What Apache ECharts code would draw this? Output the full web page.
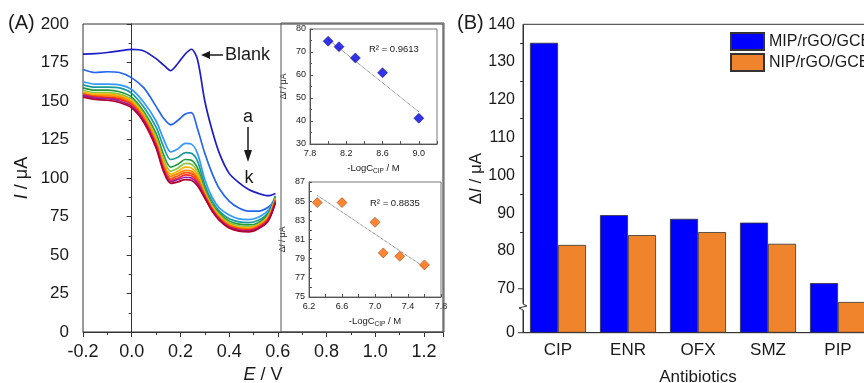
<!DOCTYPE html>
<html>
<head>
<meta charset="utf-8">
<script src="https://cdn.jsdelivr.net/npm/echarts@6.0.0/dist/echarts.min.js"></script>
<style>
  html, body { margin: 0; padding: 0; background: #fff; }
  #chart { width: 864px; height: 383px; }
</style>
</head>
<body>
<div id="chart"></div>
<script>
// (A) DPV curves, E / V vs I / uA
const potentials = [-0.2, -0.15, -0.1, -0.05, 0.0, 0.05, 0.1, 0.13, 0.16, 0.19, 0.22, 0.245, 0.27, 0.3, 0.33, 0.36, 0.4, 0.44, 0.48, 0.52, 0.56, 0.59];

const blankCurrent = [180.5, 180.8, 181.5, 182.5, 183.5, 182.5, 177.5, 173.5, 169.7, 174.5, 180.5, 183.6, 177, 150, 131, 116, 103, 97, 92.5, 90, 88.5, 90];
const currentA = [170.5, 168.5, 169, 168.5, 165, 158.5, 146.5, 139, 134.5, 137.5, 141.5, 142.5, 132, 116, 103, 93, 85, 80.5, 78.5, 78.5, 81, 86];
const currentB = [162.5, 161, 161, 160.5, 157.5, 149, 137, 125.5, 117, 119, 122.5, 122, 116, 99, 87.5, 80.5, 76, 73.5, 73, 74.5, 79, 88.5];
const currentC = [160.5, 159, 159, 158.5, 155, 146, 133, 120.5, 112, 113.5, 116.5, 116, 111, 95.5, 85, 78.5, 73.5, 71.5, 71, 72.5, 77.5, 88];
const currentD = [158.5, 157, 157, 156, 152.5, 143, 129, 115.5, 107, 109, 112, 111.5, 106.5, 93, 83, 77, 72, 70, 69.5, 71, 76.5, 87.5];
const currentE = [157, 155.5, 155.5, 154.5, 151, 141.5, 126.5, 112.5, 104.5, 106.5, 109.5, 109, 104, 91.5, 82, 76, 71, 69, 68.5, 70, 75.5, 87];
const currentF = [156, 154.5, 154.5, 153.5, 150, 140.5, 125, 110.5, 102.5, 104.5, 107, 106.5, 102, 90.5, 81.5, 75.5, 70, 68, 67.5, 69.5, 75, 86.5];
const currentG = [155, 153.5, 153.5, 152.5, 149, 139.5, 123.5, 109, 101, 103, 105, 104.5, 100, 89.5, 80.5, 74.5, 69.5, 67.5, 67, 69, 74, 86];
const currentH = [154.5, 153, 152.5, 151.5, 148, 138.5, 122.5, 107.5, 99.5, 101.5, 103.5, 103, 99, 89, 80, 74, 69, 67, 66.5, 68.5, 73.5, 85.5];
const currentI = [154, 152.5, 152, 151, 147.5, 137.5, 121.5, 106.5, 98.5, 100, 102, 101.5, 97.5, 88, 79.5, 73.5, 68.5, 66.5, 66, 68, 73, 85];
const currentJ = [153.5, 152, 151.5, 150, 146.5, 137, 120.5, 105.5, 97.5, 99, 100.5, 100, 96.5, 87.5, 79, 73, 68, 66, 65.5, 67.5, 72.5, 84.5];
const currentK = [152.5, 151, 150.5, 149, 145.5, 136, 119.5, 104.5, 96.5, 97.5, 99, 98.5, 95, 87, 78.5, 72.5, 67.5, 65.5, 65, 67, 72, 84];

const curveNames = ['Blank', 'a', 'b', 'c', 'd', 'e', 'f', 'g', 'h', 'i', 'j', 'k'];
const curveColors = ['#1c1cc8', '#2466ee', '#3399ff', '#1a9a9a', '#1f9a3a', '#8cc63e', '#ffb300', '#ff8800', '#ff5500', '#ff2a2a', '#9b1fa0', '#b3002d'];
const curveValues = [blankCurrent, currentA, currentB, currentC, currentD, currentE, currentF, currentG, currentH, currentI, currentJ, currentK];

// insets: -LogC_CIP vs delta I
const highLogC = [8.0, 8.12, 8.3, 8.6, 9.0];
const highDeltaI = [74.7, 72.3, 67.4, 61.0, 41.2];
const highFitX = [8.0, 9.0];
const highFitY = [75.5, 44.0];
const lowLogC = [6.3, 6.6, 7.0, 7.1, 7.3, 7.6];
const lowDeltaI = [84.85, 84.85, 82.8, 79.6, 79.25, 78.35];
const lowFitX = [6.3, 7.6];
const lowFitY = [85.6, 78.1];

// (B) selectivity bars
const antibiotics = ['CIP', 'ENR', 'OFX', 'SMZ', 'PIP'];
const mipValues = [135.1, 89.5, 88.5, 87.5, 71.5];
const nipValues = [81.6, 84.2, 85.0, 81.9, 66.5];
const breakStart = 6;
const breakEnd = 66;
const edgeTicks = [0, 70]; // ticks the break swallows

const FONT = 'Liberation Sans, Arial, sans-serif';
const INK = '#1a1a1a';

const chart = echarts.init(document.getElementById('chart'));

const pairs = (xs, ys) => xs.map((x, i) => [x, ys[i]]);

const lineSeries = curveValues.map((vals, i) => ({
  name: curveNames[i],
  type: 'line',
  xAxisIndex: 0,
  yAxisIndex: 0,
  data: pairs(potentials, vals),
  smooth: 0.3,
  symbol: 'none',
  lineStyle: { color: curveColors[i], width: 1.7 },
  z: 2
}));

const insetName = {
  a: { fontSize: 9.5, fontFamily: FONT, color: INK, lineHeight: 14, verticalAlign: 'middle' },
  sub: { fontSize: 6.5, fontFamily: FONT, color: INK, lineHeight: 14, verticalAlign: 'bottom' }
};
const insetYName = {
  a: { fontSize: 8.5, fontFamily: FONT, color: INK },
  i: { fontSize: 8.5, fontFamily: FONT, color: INK, fontStyle: 'italic' }
};

function insetX(grid, min, max, first) {
  return {
    type: 'value', gridIndex: grid, min: min, max: max, interval: 0.2,
    name: '{a|-LogC}{sub|CIP}{a| / M}', nameLocation: 'middle', nameGap: 17,
    nameTextStyle: { rich: insetName },
    axisLine: { show: true, lineStyle: { color: '#555', width: 1 } },
    axisTick: { inside: true, length: 3, lineStyle: { color: '#555' } },
    axisLabel: {
      fontSize: 9, fontFamily: FONT, color: INK, margin: 5,
      formatter: v => {
        const k = Math.round(v * 10);
        return (k - first) % 4 === 0 ? (k / 10).toFixed(1) : '';
      }
    },
    splitLine: { show: false }
  };
}

function insetY(grid, min, max, interval, fmt, minor) {
  return {
    type: 'value', gridIndex: grid, min: min, max: max, interval: interval,
    name: '{a|Δ}{i|I}{a| / μA}', nameLocation: 'middle', nameGap: 22,
    nameTextStyle: { rich: insetYName },
    axisLine: { show: true, lineStyle: { color: '#555', width: 1 } },
    axisTick: { inside: true, length: 3, lineStyle: { color: '#555' } },
    minorTick: { show: minor, splitNumber: 2, length: 2, lineStyle: { color: '#555' } },
    axisLabel: { fontSize: 9, fontFamily: FONT, color: INK, margin: 4, formatter: fmt },
    splitLine: { show: false }
  };
}

const option = {
  animation: false,
  backgroundColor: '#fff',
  textStyle: { fontFamily: FONT },
  grid: [
    { left: 83, top: 24, width: 360, height: 308, show: true, borderColor: '#333', borderWidth: 1, backgroundColor: 'transparent', outerBoundsMode: 'none', containLabel: false },
    { left: 310, top: 29, width: 127, height: 115, show: true, borderColor: '#777', borderWidth: 1, outerBoundsMode: 'none', containLabel: false },
    { left: 309, top: 182, width: 132, height: 115, show: true, borderColor: '#777', borderWidth: 1, outerBoundsMode: 'none', containLabel: false },
    { left: 523, top: 24.3, width: 350, height: 308.4, show: true, borderColor: '#333', borderWidth: 1, outerBoundsMode: 'none', containLabel: false }
  ],
  legend: {
    data: ['MIP/rGO/GCE', 'NIP/rGO/GCE'],
    orient: 'vertical',
    left: 725, top: 27,
    itemWidth: 33, itemHeight: 17, itemGap: 2,
    icon: 'rect',
    textStyle: { fontSize: 16, fontFamily: FONT, color: INK }
  },
  xAxis: [
    {
      type: 'value', gridIndex: 0, min: -0.2, max: 1.278, interval: 0.2,
      name: '{i|E}{a| / V}', nameLocation: 'middle', nameGap: 33,
      nameTextStyle: {
        rich: {
          a: { fontSize: 18, fontFamily: FONT, color: INK },
          i: { fontSize: 18, fontFamily: FONT, color: INK, fontStyle: 'italic' }
        }
      },
      axisLine: { show: true, lineStyle: { color: '#333' } },
      axisTick: { length: 5, lineStyle: { color: '#333' } },
      minorTick: { show: true, splitNumber: 2, length: 3, lineStyle: { color: '#333' } },
      axisLabel: { fontSize: 18, fontFamily: FONT, color: INK, margin: 11, showMaxLabel: false, formatter: v => v.toFixed(1) },
      splitLine: { show: false }
    },
    insetX(1, 7.8, 9.2, 78),
    insetX(2, 6.2, 7.8, 62),
    {
      type: 'category', gridIndex: 3, data: antibiotics,
      name: 'Antibiotics', nameLocation: 'middle', nameGap: 36,
      nameTextStyle: { fontSize: 17, fontFamily: FONT, color: INK },
      axisLine: { show: true, lineStyle: { color: '#333' } },
      axisTick: { alignWithLabel: true, length: 5, lineStyle: { color: '#333' } },
      axisLabel: { fontSize: 17, fontFamily: FONT, color: INK, margin: 9 }
    },
    {
      type: 'category', gridIndex: 3, data: antibiotics, position: 'bottom',
      axisLine: { show: false },
      axisTick: { length: 3, lineStyle: { color: '#333' } },
      axisLabel: { show: false }
    }
  ],
  yAxis: [
    {
      type: 'value', gridIndex: 0, min: 0, max: 200, interval: 25,
      name: '{i|I}{a| / μA}', nameLocation: 'middle', nameGap: 52,
      nameTextStyle: {
        rich: {
          a: { fontSize: 18, fontFamily: FONT, color: INK },
          i: { fontSize: 18, fontFamily: FONT, color: INK, fontStyle: 'italic' }
        }
      },
      axisLine: { show: true, lineStyle: { color: '#333' } },
      axisTick: { length: 5, lineStyle: { color: '#333' } },
      minorTick: { show: true, splitNumber: 2, length: 3, lineStyle: { color: '#333' } },
      axisLabel: { fontSize: 17, fontFamily: FONT, color: INK, margin: 14 },
      splitLine: { show: false }
    },
    insetY(1, 30, 80, 10, v => String(v), true),
    insetY(2, 75, 87, 1, v => (v % 2 === 1 ? String(v) : ''), false),
    {
      type: 'value', gridIndex: 3, min: 0, max: 140, interval: 10,
      breaks: [{ start: breakStart, end: breakEnd, gap: '2%' }],
      breakArea: { show: false },
      breakLabelLayout: { moveOverlap: false },
      name: '{a|Δ}{i|I}{a| / μA}', nameLocation: 'middle', nameGap: 38,
      nameTextStyle: {
        rich: {
          a: { fontSize: 17, fontFamily: FONT, color: INK },
          i: { fontSize: 17, fontFamily: FONT, color: INK, fontStyle: 'italic' }
        }
      },
      axisLine: { show: true, lineStyle: { color: '#333' } },
      axisTick: { length: 5, lineStyle: { color: '#333' } },
      minorTick: { show: true, splitNumber: 2, length: 3, lineStyle: { color: '#333' } },
      axisLabel: {
        fontSize: 16, fontFamily: FONT, color: INK, margin: 8,
        formatter: v => ((v >= 80 && v % 10 === 0) ? String(v) : '')
      },
      splitLine: { show: false }
    }
  ],
  series: lineSeries.concat([
    {
      type: 'line', xAxisIndex: 1, yAxisIndex: 1, data: pairs(highFitX, highFitY),
      symbol: 'none', lineStyle: { color: '#333', width: 0.8, type: 'dotted' }, z: 3
    },
    {
      type: 'scatter', xAxisIndex: 1, yAxisIndex: 1, data: pairs(highLogC, highDeltaI),
      symbol: 'diamond', symbolSize: 10,
      itemStyle: { color: '#0000e6', borderColor: '#00005a', borderWidth: 0.6 }, z: 4
    },
    {
      type: 'line', xAxisIndex: 2, yAxisIndex: 2, data: pairs(lowFitX, lowFitY),
      symbol: 'none', lineStyle: { color: '#333', width: 0.8, type: 'dotted' }, z: 3
    },
    {
      type: 'scatter', xAxisIndex: 2, yAxisIndex: 2, data: pairs(lowLogC, lowDeltaI),
      symbol: 'diamond', symbolSize: 10,
      itemStyle: { color: '#ff6600', borderColor: '#7a3000', borderWidth: 0.6 }, z: 4
    },
    {
      name: 'MIP/rGO/GCE', type: 'bar', xAxisIndex: 3, yAxisIndex: 3, data: mipValues,
      barWidth: 28, barGap: '0%',
      itemStyle: { color: '#0000ff', borderColor: '#333', borderWidth: 0.8 }
    },
    {
      name: 'NIP/rGO/GCE', type: 'bar', xAxisIndex: 3, yAxisIndex: 3, data: nipValues,
      barWidth: 28, barGap: '0%',
      itemStyle: { color: '#f0842c', borderColor: '#333', borderWidth: 0.8 }
    }
  ]),
  graphic: [
    { type: 'rect', id: 'insetBox', shape: { x: 281, y: 23, width: 163, height: 309 }, style: { fill: 'none', stroke: '#555', lineWidth: 1 }, z: 10 },
    { type: 'text', left: 8, top: 13, style: { text: '(A)', fontSize: 20, fontFamily: FONT, fill: INK } },
    { type: 'text', left: 457, top: 13, style: { text: '(B)', fontSize: 20, fontFamily: FONT, fill: INK } },
    { type: 'text', x: 225, y: 55, style: { text: 'Blank', fontSize: 18, fontFamily: FONT, fill: INK, verticalAlign: 'middle' } },
    { type: 'line', shape: { x1: 206, y1: 55, x2: 223, y2: 55 }, style: { stroke: INK, lineWidth: 1.5 } },
    { type: 'polygon', shape: { points: [[201, 55], [210, 51], [210, 59]] }, style: { fill: INK } },
    { type: 'text', x: 248, y: 117, style: { text: 'a', fontSize: 18, fontFamily: FONT, fill: INK, align: 'center', verticalAlign: 'middle' } },
    { type: 'line', shape: { x1: 248, y1: 127, x2: 248, y2: 153 }, style: { stroke: INK, lineWidth: 1.5 } },
    { type: 'polygon', shape: { points: [[248, 162], [244, 150], [252, 150]] }, style: { fill: INK } },
    { type: 'text', x: 249, y: 178, style: { text: 'k', fontSize: 18, fontFamily: FONT, fill: INK, align: 'center', verticalAlign: 'middle' } },
    { type: 'text', x: 369, y: 49, style: { text: 'R² = 0.9613', fontSize: 9.5, fontFamily: FONT, fill: INK, verticalAlign: 'middle' } },
    { type: 'text', x: 370, y: 203, style: { text: 'R² = 0.8835', fontSize: 9.5, fontFamily: FONT, fill: INK, verticalAlign: 'middle' } }
  ]
};

chart.setOption(option);

// axis break mark and the two edge ticks on (B) y axis
const yTop = chart.convertToPixel({ yAxisIndex: 3 }, breakEnd);
const yBottom = chart.convertToPixel({ yAxisIndex: 3 }, breakStart);
const yc = (yTop + yBottom) / 2;
const extra = [
  { type: 'rect', id: 'breakGap', shape: { x: 520, y: yTop, width: 6, height: yBottom - yTop }, style: { fill: '#fff' }, z: 20 },
  {
    type: 'polyline', id: 'breakZig',
    shape: { points: [[523, yTop], [523, yc - 3], [527, yc - 1], [519, yc + 1], [523, yc + 3], [523, yBottom]] },
    style: { stroke: '#333', lineWidth: 1, fill: 'none' }, z: 21
  }
];
edgeTicks.forEach((v, i) => {
  const y = chart.convertToPixel({ yAxisIndex: 3 }, v);
  extra.push({ type: 'line', id: 'edgeTick' + i, shape: { x1: 518, y1: y, x2: 523, y2: y }, style: { stroke: '#333', lineWidth: 1 }, z: 21 });
  extra.push({ type: 'text', id: 'edgeLabel' + i, x: 515, y: y, style: { text: String(v), fontSize: 16, fontFamily: FONT, fill: INK, align: 'right', verticalAlign: 'middle' }, z: 21 });
});
chart.setOption({ graphic: extra });
</script>
</body>
</html>
